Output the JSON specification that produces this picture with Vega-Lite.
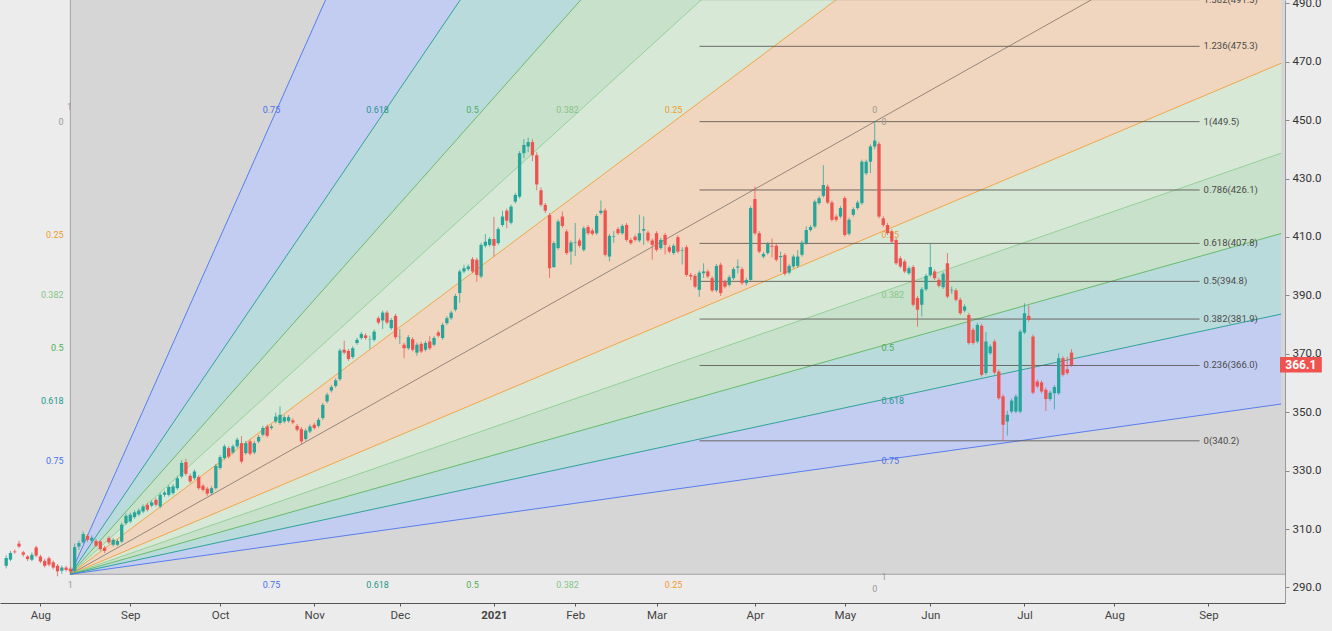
{
"$schema": "https://vega.github.io/schema/vega-lite/v6.json",
"width": 1285, "height": 603,
"autosize": {"type": "none"},
"padding": {"top": 0, "left": 0, "right": 47, "bottom": 28},
"background": "#ececec",
"view": {"stroke": null},
"config": {"font": "Roboto"},
"resolve": {"scale": {"color": "independent"}},
"datasets": {
"fanbox": [{"x1": 7, "x2": 300, "y1": 294.5, "y2": 520}],
"bands": [
{"b":"B1","x":7,"y":294.5,"y2":294.5},{"b":"B1","x":290,"y":1227.8,"y2":905.3},
{"b":"B2","x":7,"y":294.5,"y2":294.5},{"b":"B2","x":290,"y":905.3,"y2":761.1},
{"b":"B3","x":7,"y":294.5,"y2":294.5},{"b":"B3","x":290,"y":761.1,"y2":672.0},
{"b":"B4","x":7,"y":294.5,"y2":294.5},{"b":"B4","x":290,"y":672.0,"y2":605.6},
{"b":"B5","x":7,"y":294.5,"y2":294.5},{"b":"B5","x":290,"y":605.6,"y2":469.5},
{"b":"B6","x":7,"y":294.5,"y2":294.5},{"b":"B6","x":290,"y":469.5,"y2":438.7},
{"b":"B7","x":7,"y":294.5,"y2":294.5},{"b":"B7","x":290,"y":438.7,"y2":411.2},
{"b":"B8","x":7,"y":294.5,"y2":294.5},{"b":"B8","x":290,"y":411.2,"y2":383.6},
{"b":"B9","x":7,"y":294.5,"y2":294.5},{"b":"B9","x":290,"y":383.6,"y2":352.8}
],
"fanlines": [
{"l":"t75","x":7,"y":294.5},{"l":"t75","x":290,"y":1227.8},
{"l":"t618","x":7,"y":294.5},{"l":"t618","x":290,"y":905.3},
{"l":"t5","x":7,"y":294.5},{"l":"t5","x":290,"y":761.1},
{"l":"t382","x":7,"y":294.5},{"l":"t382","x":290,"y":672.0},
{"l":"t25","x":7,"y":294.5},{"l":"t25","x":290,"y":605.6},
{"l":"d0","x":7,"y":294.5},{"l":"d0","x":290,"y":527.8},
{"l":"s25","x":7,"y":294.5},{"l":"s25","x":290,"y":469.5},
{"l":"s382","x":7,"y":294.5},{"l":"s382","x":290,"y":438.7},
{"l":"s5","x":7,"y":294.5},{"l":"s5","x":290,"y":411.2},
{"l":"s618","x":7,"y":294.5},{"l":"s618","x":290,"y":383.6},
{"l":"s75","x":7,"y":294.5},{"l":"s75","x":290,"y":352.8}
],
"fanlabels": [
{"pos":"L","x":5.4,"y":449.5,"t":"0","lv":"0"},
{"pos":"L","x":5.4,"y":410.75,"t":"0.25","lv":"0.25"},
{"pos":"L","x":5.4,"y":390.29,"t":"0.382","lv":"0.382"},
{"pos":"L","x":5.4,"y":372,"t":"0.5","lv":"0.5"},
{"pos":"L","x":5.4,"y":353.71,"t":"0.618","lv":"0.618"},
{"pos":"L","x":5.4,"y":333.25,"t":"0.75","lv":"0.75"},
{"pos":"R","x":196.6,"y":449.5,"t":"0","lv":"0"},
{"pos":"R","x":196.6,"y":410.75,"t":"0.25","lv":"0.25"},
{"pos":"R","x":196.6,"y":390.29,"t":"0.382","lv":"0.382"},
{"pos":"R","x":196.6,"y":372,"t":"0.5","lv":"0.5"},
{"pos":"R","x":196.6,"y":353.71,"t":"0.618","lv":"0.618"},
{"pos":"R","x":196.6,"y":333.25,"t":"0.75","lv":"0.75"},
{"pos":"C","x":6.8,"y":454.6,"t":"1","lv":"1"},
{"pos":"C","x":54,"y":453.6,"t":"0.75","lv":"0.75"},
{"pos":"C","x":78.8,"y":453.6,"t":"0.618","lv":"0.618"},
{"pos":"C","x":101,"y":453.6,"t":"0.5","lv":"0.5"},
{"pos":"C","x":123.2,"y":453.6,"t":"0.382","lv":"0.382"},
{"pos":"C","x":148,"y":453.6,"t":"0.25","lv":"0.25"},
{"pos":"C","x":195,"y":453.6,"t":"0","lv":"0"},
{"pos":"C","x":7,"y":290.9,"t":"1","lv":"1"},
{"pos":"C","x":54,"y":290.9,"t":"0.75","lv":"0.75"},
{"pos":"C","x":78.8,"y":290.9,"t":"0.618","lv":"0.618"},
{"pos":"C","x":101,"y":290.9,"t":"0.5","lv":"0.5"},
{"pos":"C","x":123.2,"y":290.9,"t":"0.382","lv":"0.382"},
{"pos":"C","x":148,"y":290.9,"t":"0.25","lv":"0.25"},
{"pos":"C","x":195,"y":289.6,"t":"0","lv":"0"},
{"pos":"C","x":197.2,"y":293.6,"t":"1","lv":"1"}
],
"fib": [
{"p":491.3,"t":"1.382(491.3)"},
{"p":475.3,"t":"1.236(475.3)"},
{"p":449.5,"t":"1(449.5)"},
{"p":426.1,"t":"0.786(426.1)"},
{"p":407.8,"t":"0.618(407.8)"},
{"p":394.8,"t":"0.5(394.8)"},
{"p":381.9,"t":"0.382(381.9)"},
{"p":366.0,"t":"0.236(366.0)"},
{"p":340.2,"t":"0(340.2)"}
],
"tag": [{"p":366.1,"t":"366.1"}],
"candles": [
{"i":-8,"o":297.4,"h":301,"l":296.5,"c":300.1},
{"i":-7,"o":299.5,"h":302.5,"l":299,"c":301.8},
{"i":-6,"o":302.3,"h":303,"l":301.5,"c":302},
{"i":-5,"o":305,"h":306,"l":303.5,"c":304},
{"i":-4,"o":302,"h":302.5,"l":300.5,"c":301.2},
{"i":-3,"o":300.6,"h":301,"l":299,"c":299.7},
{"i":-2,"o":299.5,"h":302,"l":299,"c":301.2},
{"i":-1,"o":303.7,"h":304.3,"l":300.3,"c":300.9},
{"i":0,"o":300.6,"h":301.2,"l":298.3,"c":298.9},
{"i":1,"o":299.1,"h":299.8,"l":296.8,"c":297.4},
{"i":2,"o":300,"h":300.6,"l":297.2,"c":297.8},
{"i":3,"o":298.6,"h":299.2,"l":296.2,"c":296.8},
{"i":4,"o":297.4,"h":298,"l":293.8,"c":295.5},
{"i":5,"o":295.7,"h":297.5,"l":294.6,"c":296.8},
{"i":6,"o":296.8,"h":297.4,"l":295.4,"c":296},
{"i":7,"o":296.4,"h":297,"l":294.5,"c":295.5},
{"i":8,"o":295.7,"h":305,"l":295.2,"c":303.8},
{"i":9,"o":304,"h":306,"l":302.8,"c":305.2},
{"i":10,"o":305.4,"h":309.2,"l":305,"c":308.3},
{"i":11,"o":307.7,"h":308.3,"l":305.6,"c":306.3},
{"i":12,"o":306,"h":307.8,"l":305.3,"c":307},
{"i":13,"o":305.9,"h":306.6,"l":303.8,"c":304.3},
{"i":14,"o":305.7,"h":306.2,"l":302.5,"c":303.1},
{"i":15,"o":303.6,"h":304.2,"l":301.8,"c":302.5},
{"i":16,"o":306.9,"h":307.5,"l":304.8,"c":305.4},
{"i":17,"o":304.6,"h":306.9,"l":304,"c":306.3},
{"i":18,"o":304.6,"h":306.5,"l":304.1,"c":305.9},
{"i":19,"o":305.7,"h":312.2,"l":305.2,"c":311.5},
{"i":20,"o":312,"h":315.3,"l":311.4,"c":314.5},
{"i":21,"o":312.6,"h":315.6,"l":312,"c":314.9},
{"i":22,"o":314.1,"h":316.4,"l":313.5,"c":315.7},
{"i":23,"o":315,"h":317,"l":314.5,"c":316.3},
{"i":24,"o":316,"h":318.4,"l":315.4,"c":317.7},
{"i":25,"o":318.3,"h":319,"l":316,"c":316.6},
{"i":26,"o":318,"h":319.8,"l":317.4,"c":319.1},
{"i":27,"o":320,"h":320.7,"l":317.7,"c":318.3},
{"i":28,"o":317.7,"h":322.4,"l":317.1,"c":321.7},
{"i":29,"o":321.7,"h":323.2,"l":321,"c":322.5},
{"i":30,"o":321.7,"h":325.1,"l":321.1,"c":324.4},
{"i":31,"o":322.3,"h":325.4,"l":321.7,"c":324.6},
{"i":32,"o":324,"h":328.2,"l":323.4,"c":327.4},
{"i":33,"o":328,"h":333.5,"l":327.4,"c":332.6},
{"i":34,"o":332.9,"h":334,"l":328.2,"c":328.9},
{"i":35,"o":328.2,"h":329,"l":325.7,"c":326.3},
{"i":36,"o":327.4,"h":330.4,"l":326.8,"c":329.7},
{"i":37,"o":327.8,"h":328.5,"l":323.4,"c":324},
{"i":38,"o":324.8,"h":325.4,"l":322.8,"c":323.4},
{"i":39,"o":323.8,"h":324.4,"l":321.4,"c":322.1},
{"i":40,"o":322.3,"h":324.7,"l":321.6,"c":324},
{"i":41,"o":324,"h":332.3,"l":323.5,"c":331.6},
{"i":42,"o":330.9,"h":335.3,"l":330.3,"c":334.6},
{"i":43,"o":334.3,"h":339,"l":333.7,"c":338.3},
{"i":44,"o":337.7,"h":338.4,"l":334.2,"c":334.8},
{"i":45,"o":336.2,"h":339,"l":335.6,"c":338.3},
{"i":46,"o":338.3,"h":341.3,"l":337.7,"c":340.6},
{"i":47,"o":339.4,"h":341.8,"l":332.5,"c":333.1},
{"i":48,"o":336,"h":340.1,"l":335.4,"c":339.4},
{"i":49,"o":340,"h":340.7,"l":335.2,"c":335.8},
{"i":50,"o":336.2,"h":340.1,"l":335.6,"c":339.4},
{"i":51,"o":340,"h":342.2,"l":339.4,"c":341.5},
{"i":52,"o":342.3,"h":345.3,"l":341.7,"c":344.6},
{"i":53,"o":345.1,"h":345.8,"l":341.3,"c":341.9},
{"i":54,"o":344.6,"h":345.8,"l":344,"c":345.1},
{"i":55,"o":346.8,"h":349.8,"l":346.2,"c":348.5},
{"i":56,"o":346.3,"h":352,"l":345.7,"c":349.1},
{"i":57,"o":346.8,"h":349,"l":346.2,"c":348.3},
{"i":58,"o":347,"h":349,"l":346.4,"c":348.3},
{"i":59,"o":347.2,"h":347.9,"l":345.9,"c":346.5},
{"i":60,"o":345.3,"h":346,"l":343.4,"c":344},
{"i":61,"o":344.2,"h":344.9,"l":339,"c":340},
{"i":62,"o":340.8,"h":344.4,"l":340.2,"c":343.7},
{"i":63,"o":343.4,"h":345.8,"l":342.8,"c":345.1},
{"i":64,"o":345.7,"h":346.4,"l":344,"c":344.6},
{"i":65,"o":345.3,"h":348.1,"l":344.7,"c":347.4},
{"i":66,"o":348,"h":353.2,"l":347.4,"c":352.5},
{"i":67,"o":353.7,"h":356.7,"l":353.1,"c":356},
{"i":68,"o":357.4,"h":359.3,"l":356.8,"c":358.6},
{"i":69,"o":359,"h":361.6,"l":358.4,"c":360.9},
{"i":70,"o":361.3,"h":371.8,"l":360.7,"c":371.1},
{"i":71,"o":371.4,"h":374.5,"l":369.8,"c":370.4},
{"i":72,"o":371,"h":371.7,"l":367.6,"c":368.2},
{"i":73,"o":368.9,"h":372.6,"l":368.3,"c":371.9},
{"i":74,"o":373.7,"h":375.5,"l":373.1,"c":374.8},
{"i":75,"o":375.4,"h":377.5,"l":374.8,"c":376.8},
{"i":76,"o":376.3,"h":377,"l":374.8,"c":375.4},
{"i":77,"o":374.8,"h":376.2,"l":371.7,"c":374.9},
{"i":78,"o":374.8,"h":378.3,"l":374.2,"c":377.6},
{"i":79,"o":382.2,"h":382.9,"l":380.1,"c":380.7},
{"i":80,"o":381.4,"h":384.8,"l":378.5,"c":384.1},
{"i":81,"o":384.1,"h":384.8,"l":380.1,"c":380.7},
{"i":82,"o":378.8,"h":382.3,"l":378.2,"c":381.6},
{"i":83,"o":383,"h":383.7,"l":375,"c":375.7},
{"i":84,"o":375.7,"h":378.5,"l":373.3,"c":375.8},
{"i":85,"o":373.1,"h":373.8,"l":368.5,"c":371.9},
{"i":86,"o":371.9,"h":376.4,"l":371.3,"c":375.7},
{"i":87,"o":375,"h":375.7,"l":370.8,"c":371.4},
{"i":88,"o":370.4,"h":373.8,"l":369.3,"c":373.1},
{"i":89,"o":373.4,"h":374.1,"l":370.2,"c":370.8},
{"i":90,"o":371.4,"h":374.4,"l":370.8,"c":373.7},
{"i":91,"o":374.2,"h":376,"l":371.3,"c":371.9},
{"i":92,"o":373.1,"h":376.1,"l":372.5,"c":375.4},
{"i":93,"o":377.3,"h":378,"l":375.6,"c":376.2},
{"i":94,"o":375.4,"h":380.6,"l":374.8,"c":379.9},
{"i":95,"o":380.5,"h":382.9,"l":379.9,"c":382.2},
{"i":96,"o":382.2,"h":384.8,"l":381.6,"c":384.1},
{"i":97,"o":385.1,"h":390.5,"l":384.5,"c":389.8},
{"i":98,"o":390.8,"h":398.9,"l":387.5,"c":398.2},
{"i":99,"o":398.2,"h":400.5,"l":397.6,"c":399.3},
{"i":100,"o":399,"h":400.6,"l":398.4,"c":399.9},
{"i":101,"o":402.4,"h":403.1,"l":397.6,"c":398.2},
{"i":102,"o":402.2,"h":402.9,"l":394.7,"c":397},
{"i":103,"o":396.5,"h":408,"l":395.9,"c":407.3},
{"i":104,"o":407,"h":411,"l":406.4,"c":408.4},
{"i":105,"o":407.3,"h":410,"l":406.7,"c":409.3},
{"i":106,"o":409.3,"h":416.9,"l":403.3,"c":407},
{"i":107,"o":407.9,"h":413.4,"l":407.3,"c":412.7},
{"i":108,"o":414.1,"h":419,"l":413.5,"c":417},
{"i":109,"o":419,"h":419.7,"l":413,"c":415.6},
{"i":110,"o":414.9,"h":421.1,"l":414.3,"c":420.4},
{"i":111,"o":422.1,"h":425.1,"l":421.5,"c":424.4},
{"i":112,"o":423.8,"h":439.4,"l":423.2,"c":438.7},
{"i":113,"o":438.7,"h":443.5,"l":437,"c":441.5},
{"i":114,"o":441,"h":444,"l":439,"c":442.5},
{"i":115,"o":442.5,"h":443.5,"l":436,"c":438},
{"i":116,"o":438,"h":439,"l":426,"c":428},
{"i":117,"o":426,"h":427,"l":420.4,"c":421},
{"i":118,"o":421,"h":421.7,"l":418.2,"c":419},
{"i":119,"o":417.5,"h":418.2,"l":396,"c":399.3},
{"i":120,"o":399.7,"h":408.6,"l":399.4,"c":407.9},
{"i":121,"o":406.2,"h":416,"l":405.6,"c":415.3},
{"i":122,"o":417,"h":418.7,"l":413.2,"c":413.8},
{"i":123,"o":411.9,"h":412.6,"l":403.9,"c":404.5},
{"i":124,"o":405,"h":408.8,"l":400.5,"c":408.1},
{"i":125,"o":408,"h":414.8,"l":403.5,"c":408.2},
{"i":126,"o":408.8,"h":409.5,"l":406.4,"c":407},
{"i":127,"o":405.6,"h":413.7,"l":405,"c":413},
{"i":128,"o":413.4,"h":414.1,"l":410.7,"c":411.3},
{"i":129,"o":412.2,"h":412.9,"l":410.5,"c":411.1},
{"i":130,"o":411.3,"h":417.9,"l":410.7,"c":417.2},
{"i":131,"o":418.2,"h":422.5,"l":417.6,"c":419},
{"i":132,"o":419.1,"h":419.8,"l":403.3,"c":403.9},
{"i":133,"o":403.3,"h":411.1,"l":401.6,"c":410.4},
{"i":134,"o":410,"h":412,"l":408,"c":410.2},
{"i":135,"o":412.7,"h":413.4,"l":410.7,"c":411.3},
{"i":136,"o":411.3,"h":414.5,"l":410.7,"c":413.8},
{"i":137,"o":414.1,"h":414.8,"l":408.4,"c":409},
{"i":138,"o":409,"h":409.7,"l":407.3,"c":407.9},
{"i":139,"o":410.1,"h":410.8,"l":408.4,"c":409},
{"i":140,"o":408.8,"h":417.6,"l":408.2,"c":411.3},
{"i":141,"o":412.2,"h":417,"l":407.3,"c":412.7},
{"i":142,"o":411.5,"h":412.2,"l":408.2,"c":408.8},
{"i":143,"o":408.8,"h":409.5,"l":402.2,"c":407.3},
{"i":144,"o":411.3,"h":412,"l":405,"c":405.6},
{"i":145,"o":406.2,"h":409.7,"l":405.6,"c":409},
{"i":146,"o":410.7,"h":411.4,"l":404,"c":407.3},
{"i":147,"o":406.5,"h":407.2,"l":404.4,"c":405},
{"i":148,"o":404.5,"h":407.7,"l":403.9,"c":407},
{"i":149,"o":409.9,"h":410.6,"l":404.4,"c":405},
{"i":150,"o":405.3,"h":406.5,"l":400.6,"c":405.5},
{"i":151,"o":406.5,"h":407.2,"l":396.4,"c":397},
{"i":152,"o":397,"h":397.7,"l":395.2,"c":396.5},
{"i":153,"o":396.7,"h":397.4,"l":392.4,"c":393},
{"i":154,"o":391.9,"h":398.5,"l":389.5,"c":397.8},
{"i":155,"o":397.6,"h":401,"l":396,"c":398.2},
{"i":156,"o":398.2,"h":398.9,"l":395.9,"c":396.5},
{"i":157,"o":395.9,"h":396.6,"l":391.1,"c":391.7},
{"i":158,"o":391.7,"h":400.8,"l":391.1,"c":400.1},
{"i":159,"o":400.5,"h":401.2,"l":389.8,"c":390.8},
{"i":160,"o":394.7,"h":395.4,"l":392.4,"c":393},
{"i":161,"o":393.6,"h":396.9,"l":393,"c":396.2},
{"i":162,"o":395.9,"h":399.7,"l":395.3,"c":399},
{"i":163,"o":399.5,"h":402.3,"l":397.5,"c":399.9},
{"i":164,"o":399,"h":399.7,"l":393.6,"c":394.2},
{"i":165,"o":394.2,"h":396,"l":393.4,"c":395.3},
{"i":166,"o":395.3,"h":420.6,"l":394.7,"c":419.9},
{"i":167,"o":423,"h":427.3,"l":410.7,"c":411.3},
{"i":168,"o":411.3,"h":412,"l":404.4,"c":405},
{"i":169,"o":403.3,"h":404.9,"l":402.7,"c":404.2},
{"i":170,"o":404.5,"h":408.3,"l":403.9,"c":407.6},
{"i":171,"o":407,"h":409.5,"l":403,"c":406.7},
{"i":172,"o":407,"h":407.7,"l":401.6,"c":402.2},
{"i":173,"o":403.1,"h":405,"l":398,"c":403.5},
{"i":174,"o":403.8,"h":404.5,"l":396.8,"c":397.4},
{"i":175,"o":397.8,"h":400.8,"l":397.2,"c":400.1},
{"i":176,"o":399.9,"h":404,"l":399.3,"c":403.3},
{"i":177,"o":400.1,"h":405.5,"l":399.5,"c":403.3},
{"i":178,"o":403.9,"h":408.8,"l":403.3,"c":408.1},
{"i":179,"o":407.9,"h":413.6,"l":407.3,"c":412.4},
{"i":180,"o":412.4,"h":414.1,"l":411.8,"c":413.4},
{"i":181,"o":413.6,"h":422.8,"l":413,"c":422.1},
{"i":182,"o":421.6,"h":424,"l":421,"c":423.3},
{"i":183,"o":424.1,"h":434.6,"l":423.5,"c":427.8},
{"i":184,"o":427.3,"h":428,"l":421.2,"c":421.8},
{"i":185,"o":421.8,"h":422.5,"l":415.3,"c":415.9},
{"i":186,"o":417,"h":417.7,"l":415.3,"c":415.9},
{"i":187,"o":417,"h":420.6,"l":416.4,"c":419.9},
{"i":188,"o":423.3,"h":424,"l":410.1,"c":410.7},
{"i":189,"o":411.1,"h":416.6,"l":410.5,"c":415.9},
{"i":190,"o":417.6,"h":420.2,"l":417,"c":419.5},
{"i":191,"o":419.9,"h":422.5,"l":419.3,"c":421.8},
{"i":192,"o":421.6,"h":436.5,"l":421,"c":435.8},
{"i":193,"o":431.8,"h":436.5,"l":431.2,"c":435.8},
{"i":194,"o":435.8,"h":441.7,"l":431.9,"c":441},
{"i":195,"o":441,"h":449.5,"l":440,"c":443},
{"i":196,"o":441.9,"h":442.6,"l":416.4,"c":417},
{"i":197,"o":416.4,"h":417.1,"l":413.5,"c":414.1},
{"i":198,"o":414.1,"h":414.8,"l":410.7,"c":411.3},
{"i":199,"o":411.9,"h":412.6,"l":407.8,"c":408.4},
{"i":200,"o":409,"h":409.7,"l":400.4,"c":401},
{"i":201,"o":402.7,"h":403.4,"l":399.3,"c":399.9},
{"i":202,"o":401.6,"h":402.3,"l":397.6,"c":398.2},
{"i":203,"o":397.6,"h":400,"l":397,"c":399.3},
{"i":204,"o":399.7,"h":400.4,"l":386.2,"c":386.8},
{"i":205,"o":389.1,"h":389.8,"l":379.3,"c":385.1},
{"i":206,"o":386.8,"h":392.8,"l":382.8,"c":392.1},
{"i":207,"o":392.1,"h":397.4,"l":391.5,"c":396.7},
{"i":208,"o":397,"h":407.9,"l":396.4,"c":399.7},
{"i":209,"o":398.2,"h":398.9,"l":395.3,"c":395.9},
{"i":210,"o":395.3,"h":396,"l":392.7,"c":393.3},
{"i":211,"o":392.8,"h":398.1,"l":392.2,"c":397.4},
{"i":212,"o":401,"h":404.5,"l":389,"c":389.6},
{"i":213,"o":391.7,"h":393,"l":390.5,"c":391.9},
{"i":214,"o":391.7,"h":392.4,"l":387.9,"c":388.5},
{"i":215,"o":388.5,"h":389.2,"l":383.3,"c":383.9},
{"i":216,"o":384.8,"h":386.9,"l":384.2,"c":386.2},
{"i":217,"o":383.3,"h":384,"l":373.1,"c":373.7},
{"i":218,"o":378.2,"h":378.9,"l":373.1,"c":373.7},
{"i":219,"o":374.2,"h":380.6,"l":373.6,"c":379.9},
{"i":220,"o":379.6,"h":380.3,"l":362.2,"c":362.8},
{"i":221,"o":363.4,"h":377.5,"l":362.8,"c":374.2},
{"i":222,"o":370.2,"h":373.2,"l":369.6,"c":372.5},
{"i":223,"o":374.2,"h":374.9,"l":363,"c":363.6},
{"i":224,"o":363.9,"h":364.6,"l":354.2,"c":354.8},
{"i":225,"o":355.4,"h":356.1,"l":340.2,"c":345.7},
{"i":226,"o":346.8,"h":350.5,"l":342,"c":349.1},
{"i":227,"o":350.2,"h":354.7,"l":349.6,"c":354},
{"i":228,"o":350.2,"h":356.1,"l":349.6,"c":355.4},
{"i":229,"o":350.2,"h":378.3,"l":349.6,"c":377.6},
{"i":230,"o":377.3,"h":387.3,"l":376.7,"c":383.9},
{"i":231,"o":383,"h":386.5,"l":381,"c":381.6},
{"i":232,"o":375.9,"h":376.6,"l":356.1,"c":356.7},
{"i":233,"o":360.5,"h":361.2,"l":358.2,"c":358.8},
{"i":234,"o":360.2,"h":360.9,"l":356.5,"c":357.1},
{"i":235,"o":357.7,"h":358.4,"l":350.4,"c":354.5},
{"i":236,"o":354.5,"h":357.4,"l":353.9,"c":356.7},
{"i":237,"o":356.5,"h":359.3,"l":351,"c":358.6},
{"i":238,"o":356.5,"h":370.2,"l":355.9,"c":368.5},
{"i":239,"o":368.5,"h":369.2,"l":362.2,"c":362.8},
{"i":240,"o":364.7,"h":369,"l":362.8,"c":363.4},
{"i":241,"o":370.4,"h":371.6,"l":365.5,"c":366.1}
]
},
"layer": [
{
"data": {"name": "fanbox"},
"mark": {"type": "rect", "clip": true, "fill": "#d6d6d6", "stroke": "#a3a3a3", "strokeWidth": 1},
"encoding": {
"x": {"field": "x1", "type": "quantitative", "scale": {"domain": [-8.28, 289.73], "nice": false, "zero": false},
"axis": {"orient": "bottom", "title": null, "grid": false, "values": [0,21,42,64,84,106,125,144,167,188,208,230,251,273], "labelExpr": "['Aug','Sep','Oct','Nov','Dec','2021','Feb','Mar','Apr','May','Jun','Jul','Aug','Sep'][indexof([0,21,42,64,84,106,125,144,167,188,208,230,251,273], datum.value)]", "labelFontWeight": {"condition": {"test": "datum.value == 106", "value": "bold"}, "value": "normal"}, "labelFont": "Roboto", "labelFontSize": 11.5, "labelColor": "#444444", "labelPadding": 3, "tickSize": 3, "tickColor": "#555555", "domainColor": "#555555", "labelFlush": false, "labelOverlap": false}},
"x2": {"field": "x2"},
"y": {"field": "y1", "type": "quantitative", "scale": {"domain": [284.66, 491.16], "nice": false, "zero": false},
"axis": {"orient": "right", "title": null, "grid": false, "values": [290,310,330,350,370,390,410,430,450,470,490], "format": ".1f", "labelFont": "Roboto", "labelFontSize": 11.5, "labelColor": "#333333", "labelPadding": 3, "tickSize": 4, "tickColor": "#888888", "domainColor": "#999999", "labelOverlap": false, "labelFlush": false}},
"y2": {"field": "y2"}
}
},
{
"data": {"name": "bands"},
"mark": {"type": "area", "clip": true, "opacity": 1},
"encoding": {
"x": {"field": "x", "type": "quantitative", "scale": {"domain": [-8.28, 289.73], "nice": false, "zero": false},
"axis": {"orient": "bottom", "title": null, "grid": false, "values": [0,21,42,64,84,106,125,144,167,188,208,230,251,273], "labelExpr": "['Aug','Sep','Oct','Nov','Dec','2021','Feb','Mar','Apr','May','Jun','Jul','Aug','Sep'][indexof([0,21,42,64,84,106,125,144,167,188,208,230,251,273], datum.value)]", "labelFontWeight": {"condition": {"test": "datum.value == 106", "value": "bold"}, "value": "normal"}, "labelFont": "Roboto", "labelFontSize": 11.5, "labelColor": "#444444", "labelPadding": 3, "tickSize": 3, "tickColor": "#555555", "domainColor": "#555555", "labelFlush": false, "labelOverlap": false}},
"y": {"field": "y", "type": "quantitative", "stack": null, "scale": {"domain": [284.66, 491.16], "nice": false, "zero": false},
"axis": {"orient": "right", "title": null, "grid": false, "values": [290,310,330,350,370,390,410,430,450,470,490], "format": ".1f", "labelFont": "Roboto", "labelFontSize": 11.5, "labelColor": "#333333", "labelPadding": 3, "tickSize": 4, "tickColor": "#888888", "domainColor": "#999999", "labelOverlap": false, "labelFlush": false}},
"y2": {"field": "y2"},
"color": {"field": "b", "type": "nominal", "legend": null,
"scale": {"domain": ["B1","B2","B3","B4","B5","B6","B7","B8","B9"],
"range": ["#c3cdf2","#badbdc","#c8e1ca","#d7e8d6","#f0d6be","#d7e8d6","#c8e1ca","#badbdc","#c3cdf2"]}}
}
},
{
"data": {"name": "fanlines"},
"mark": {"type": "line", "clip": true, "strokeWidth": 1, "opacity": 0.9},
"encoding": {
"x": {"field": "x", "type": "quantitative", "scale": {"domain": [-8.28, 289.73], "nice": false, "zero": false},
"axis": {"orient": "bottom", "title": null, "grid": false, "values": [0,21,42,64,84,106,125,144,167,188,208,230,251,273], "labelExpr": "['Aug','Sep','Oct','Nov','Dec','2021','Feb','Mar','Apr','May','Jun','Jul','Aug','Sep'][indexof([0,21,42,64,84,106,125,144,167,188,208,230,251,273], datum.value)]", "labelFontWeight": {"condition": {"test": "datum.value == 106", "value": "bold"}, "value": "normal"}, "labelFont": "Roboto", "labelFontSize": 11.5, "labelColor": "#444444", "labelPadding": 3, "tickSize": 3, "tickColor": "#555555", "domainColor": "#555555", "labelFlush": false, "labelOverlap": false}},
"y": {"field": "y", "type": "quantitative", "scale": {"domain": [284.66, 491.16], "nice": false, "zero": false},
"axis": {"orient": "right", "title": null, "grid": false, "values": [290,310,330,350,370,390,410,430,450,470,490], "format": ".1f", "labelFont": "Roboto", "labelFontSize": 11.5, "labelColor": "#333333", "labelPadding": 3, "tickSize": 4, "tickColor": "#888888", "domainColor": "#999999", "labelOverlap": false, "labelFlush": false}},
"color": {"field": "l", "type": "nominal", "legend": null,
"scale": {"domain": ["t75","t618","t5","t382","t25","d0","s25","s382","s5","s618","s75"],
"range": ["#4d74ec","#1f9d8e","#5cb860","#8fcf92","#f5a03a","#8c7d75","#f5a03a","#8fcf92","#5cb860","#1f9d8e","#4d74ec"]}}
}
},
{
"data": {"name": "fib"},
"mark": {"type": "rule", "clip": true, "color": "#5a5652", "strokeWidth": 1, "opacity": 0.85},
"encoding": {
"x": {"datum": 154.06, "type": "quantitative", "scale": {"domain": [-8.28, 289.73], "nice": false, "zero": false},
"axis": {"orient": "bottom", "title": null, "grid": false, "values": [0,21,42,64,84,106,125,144,167,188,208,230,251,273], "labelExpr": "['Aug','Sep','Oct','Nov','Dec','2021','Feb','Mar','Apr','May','Jun','Jul','Aug','Sep'][indexof([0,21,42,64,84,106,125,144,167,188,208,230,251,273], datum.value)]", "labelFontWeight": {"condition": {"test": "datum.value == 106", "value": "bold"}, "value": "normal"}, "labelFont": "Roboto", "labelFontSize": 11.5, "labelColor": "#444444", "labelPadding": 3, "tickSize": 3, "tickColor": "#555555", "domainColor": "#555555", "labelFlush": false, "labelOverlap": false}},
"x2": {"datum": 270.94},
"y": {"field": "p", "type": "quantitative", "scale": {"domain": [284.66, 491.16], "nice": false, "zero": false},
"axis": {"orient": "right", "title": null, "grid": false, "values": [290,310,330,350,370,390,410,430,450,470,490], "format": ".1f", "labelFont": "Roboto", "labelFontSize": 11.5, "labelColor": "#333333", "labelPadding": 3, "tickSize": 4, "tickColor": "#888888", "domainColor": "#999999", "labelOverlap": false, "labelFlush": false}}
}
},
{
"data": {"name": "fib"},
"mark": {"type": "text", "align": "left", "baseline": "middle", "dx": 4, "font": "Roboto", "fontSize": 9.5, "color": "#4a4a4a"},
"encoding": {
"x": {"datum": 270.94, "type": "quantitative", "scale": {"domain": [-8.28, 289.73], "nice": false, "zero": false},
"axis": {"orient": "bottom", "title": null, "grid": false, "values": [0,21,42,64,84,106,125,144,167,188,208,230,251,273], "labelExpr": "['Aug','Sep','Oct','Nov','Dec','2021','Feb','Mar','Apr','May','Jun','Jul','Aug','Sep'][indexof([0,21,42,64,84,106,125,144,167,188,208,230,251,273], datum.value)]", "labelFontWeight": {"condition": {"test": "datum.value == 106", "value": "bold"}, "value": "normal"}, "labelFont": "Roboto", "labelFontSize": 11.5, "labelColor": "#444444", "labelPadding": 3, "tickSize": 3, "tickColor": "#555555", "domainColor": "#555555", "labelFlush": false, "labelOverlap": false}},
"y": {"field": "p", "type": "quantitative", "scale": {"domain": [284.66, 491.16], "nice": false, "zero": false},
"axis": {"orient": "right", "title": null, "grid": false, "values": [290,310,330,350,370,390,410,430,450,470,490], "format": ".1f", "labelFont": "Roboto", "labelFontSize": 11.5, "labelColor": "#333333", "labelPadding": 3, "tickSize": 4, "tickColor": "#888888", "domainColor": "#999999", "labelOverlap": false, "labelFlush": false}},
"text": {"field": "t"}
}
},
{
"data": {"name": "fanlabels"},
"transform": [{"filter": "datum.pos == 'L'"}],
"mark": {"type": "text", "align": "right", "baseline": "middle", "font": "Roboto", "fontSize": 9},
"encoding": {
"x": {"field": "x", "type": "quantitative", "scale": {"domain": [-8.28, 289.73], "nice": false, "zero": false},
"axis": {"orient": "bottom", "title": null, "grid": false, "values": [0,21,42,64,84,106,125,144,167,188,208,230,251,273], "labelExpr": "['Aug','Sep','Oct','Nov','Dec','2021','Feb','Mar','Apr','May','Jun','Jul','Aug','Sep'][indexof([0,21,42,64,84,106,125,144,167,188,208,230,251,273], datum.value)]", "labelFontWeight": {"condition": {"test": "datum.value == 106", "value": "bold"}, "value": "normal"}, "labelFont": "Roboto", "labelFontSize": 11.5, "labelColor": "#444444", "labelPadding": 3, "tickSize": 3, "tickColor": "#555555", "domainColor": "#555555", "labelFlush": false, "labelOverlap": false}},
"y": {"field": "y", "type": "quantitative", "scale": {"domain": [284.66, 491.16], "nice": false, "zero": false},
"axis": {"orient": "right", "title": null, "grid": false, "values": [290,310,330,350,370,390,410,430,450,470,490], "format": ".1f", "labelFont": "Roboto", "labelFontSize": 11.5, "labelColor": "#333333", "labelPadding": 3, "tickSize": 4, "tickColor": "#888888", "domainColor": "#999999", "labelOverlap": false, "labelFlush": false}},
"text": {"field": "t"},
"color": {"field": "lv", "type": "nominal", "legend": null,
"scale": {"domain": ["0","0.25","0.382","0.5","0.618","0.75","1"], "range": ["#999999","#f29b30","#86c689","#4fae55","#1f978a","#4a6ff0","#999999"]}}
}
},
{
"data": {"name": "fanlabels"},
"transform": [{"filter": "datum.pos == 'R'"}],
"mark": {"type": "text", "align": "left", "baseline": "middle", "font": "Roboto", "fontSize": 9},
"encoding": {
"x": {"field": "x", "type": "quantitative", "scale": {"domain": [-8.28, 289.73], "nice": false, "zero": false},
"axis": {"orient": "bottom", "title": null, "grid": false, "values": [0,21,42,64,84,106,125,144,167,188,208,230,251,273], "labelExpr": "['Aug','Sep','Oct','Nov','Dec','2021','Feb','Mar','Apr','May','Jun','Jul','Aug','Sep'][indexof([0,21,42,64,84,106,125,144,167,188,208,230,251,273], datum.value)]", "labelFontWeight": {"condition": {"test": "datum.value == 106", "value": "bold"}, "value": "normal"}, "labelFont": "Roboto", "labelFontSize": 11.5, "labelColor": "#444444", "labelPadding": 3, "tickSize": 3, "tickColor": "#555555", "domainColor": "#555555", "labelFlush": false, "labelOverlap": false}},
"y": {"field": "y", "type": "quantitative", "scale": {"domain": [284.66, 491.16], "nice": false, "zero": false},
"axis": {"orient": "right", "title": null, "grid": false, "values": [290,310,330,350,370,390,410,430,450,470,490], "format": ".1f", "labelFont": "Roboto", "labelFontSize": 11.5, "labelColor": "#333333", "labelPadding": 3, "tickSize": 4, "tickColor": "#888888", "domainColor": "#999999", "labelOverlap": false, "labelFlush": false}},
"text": {"field": "t"},
"color": {"field": "lv", "type": "nominal", "legend": null,
"scale": {"domain": ["0","0.25","0.382","0.5","0.618","0.75","1"], "range": ["#999999","#f29b30","#86c689","#4fae55","#1f978a","#4a6ff0","#999999"]}}
}
},
{
"data": {"name": "fanlabels"},
"transform": [{"filter": "datum.pos == 'C'"}],
"mark": {"type": "text", "align": "center", "baseline": "middle", "font": "Roboto", "fontSize": 9},
"encoding": {
"x": {"field": "x", "type": "quantitative", "scale": {"domain": [-8.28, 289.73], "nice": false, "zero": false},
"axis": {"orient": "bottom", "title": null, "grid": false, "values": [0,21,42,64,84,106,125,144,167,188,208,230,251,273], "labelExpr": "['Aug','Sep','Oct','Nov','Dec','2021','Feb','Mar','Apr','May','Jun','Jul','Aug','Sep'][indexof([0,21,42,64,84,106,125,144,167,188,208,230,251,273], datum.value)]", "labelFontWeight": {"condition": {"test": "datum.value == 106", "value": "bold"}, "value": "normal"}, "labelFont": "Roboto", "labelFontSize": 11.5, "labelColor": "#444444", "labelPadding": 3, "tickSize": 3, "tickColor": "#555555", "domainColor": "#555555", "labelFlush": false, "labelOverlap": false}},
"y": {"field": "y", "type": "quantitative", "scale": {"domain": [284.66, 491.16], "nice": false, "zero": false},
"axis": {"orient": "right", "title": null, "grid": false, "values": [290,310,330,350,370,390,410,430,450,470,490], "format": ".1f", "labelFont": "Roboto", "labelFontSize": 11.5, "labelColor": "#333333", "labelPadding": 3, "tickSize": 4, "tickColor": "#888888", "domainColor": "#999999", "labelOverlap": false, "labelFlush": false}},
"text": {"field": "t"},
"color": {"field": "lv", "type": "nominal", "legend": null,
"scale": {"domain": ["0","0.25","0.382","0.5","0.618","0.75","1"], "range": ["#999999","#f29b30","#86c689","#4fae55","#1f978a","#4a6ff0","#999999"]}}
}
},
{
"data": {"name": "candles"},
"mark": {"type": "rule", "strokeWidth": 1, "opacity": 0.75},
"encoding": {
"x": {"field": "i", "type": "quantitative", "scale": {"domain": [-8.28, 289.73], "nice": false, "zero": false},
"axis": {"orient": "bottom", "title": null, "grid": false, "values": [0,21,42,64,84,106,125,144,167,188,208,230,251,273], "labelExpr": "['Aug','Sep','Oct','Nov','Dec','2021','Feb','Mar','Apr','May','Jun','Jul','Aug','Sep'][indexof([0,21,42,64,84,106,125,144,167,188,208,230,251,273], datum.value)]", "labelFontWeight": {"condition": {"test": "datum.value == 106", "value": "bold"}, "value": "normal"}, "labelFont": "Roboto", "labelFontSize": 11.5, "labelColor": "#444444", "labelPadding": 3, "tickSize": 3, "tickColor": "#555555", "domainColor": "#555555", "labelFlush": false, "labelOverlap": false}},
"y": {"field": "l", "type": "quantitative", "scale": {"domain": [284.66, 491.16], "nice": false, "zero": false},
"axis": {"orient": "right", "title": null, "grid": false, "values": [290,310,330,350,370,390,410,430,450,470,490], "format": ".1f", "labelFont": "Roboto", "labelFontSize": 11.5, "labelColor": "#333333", "labelPadding": 3, "tickSize": 4, "tickColor": "#888888", "domainColor": "#999999", "labelOverlap": false, "labelFlush": false}},
"y2": {"field": "h"},
"color": {"condition": {"test": "datum.c >= datum.o", "value": "#26a69a"}, "value": "#ef5350"}
}
},
{
"data": {"name": "candles"},
"mark": {"type": "bar", "size": 3.3},
"encoding": {
"x": {"field": "i", "type": "quantitative", "scale": {"domain": [-8.28, 289.73], "nice": false, "zero": false},
"axis": {"orient": "bottom", "title": null, "grid": false, "values": [0,21,42,64,84,106,125,144,167,188,208,230,251,273], "labelExpr": "['Aug','Sep','Oct','Nov','Dec','2021','Feb','Mar','Apr','May','Jun','Jul','Aug','Sep'][indexof([0,21,42,64,84,106,125,144,167,188,208,230,251,273], datum.value)]", "labelFontWeight": {"condition": {"test": "datum.value == 106", "value": "bold"}, "value": "normal"}, "labelFont": "Roboto", "labelFontSize": 11.5, "labelColor": "#444444", "labelPadding": 3, "tickSize": 3, "tickColor": "#555555", "domainColor": "#555555", "labelFlush": false, "labelOverlap": false}},
"y": {"field": "o", "type": "quantitative", "scale": {"domain": [284.66, 491.16], "nice": false, "zero": false},
"axis": {"orient": "right", "title": null, "grid": false, "values": [290,310,330,350,370,390,410,430,450,470,490], "format": ".1f", "labelFont": "Roboto", "labelFontSize": 11.5, "labelColor": "#333333", "labelPadding": 3, "tickSize": 4, "tickColor": "#888888", "domainColor": "#999999", "labelOverlap": false, "labelFlush": false}},
"y2": {"field": "c"},
"color": {"condition": {"test": "datum.c >= datum.o", "value": "#26a69a"}, "value": "#ef5350"}
}
},
{
"data": {"name": "tag"},
"mark": {"type": "rect", "color": "#ef5350", "clip": false},
"encoding": {
"x": {"datum": 289.73, "type": "quantitative", "scale": {"domain": [-8.28, 289.73], "nice": false, "zero": false},
"axis": {"orient": "bottom", "title": null, "grid": false, "values": [0,21,42,64,84,106,125,144,167,188,208,230,251,273], "labelExpr": "['Aug','Sep','Oct','Nov','Dec','2021','Feb','Mar','Apr','May','Jun','Jul','Aug','Sep'][indexof([0,21,42,64,84,106,125,144,167,188,208,230,251,273], datum.value)]", "labelFontWeight": {"condition": {"test": "datum.value == 106", "value": "bold"}, "value": "normal"}, "labelFont": "Roboto", "labelFontSize": 11.5, "labelColor": "#444444", "labelPadding": 3, "tickSize": 3, "tickColor": "#555555", "domainColor": "#555555", "labelFlush": false, "labelOverlap": false}},
"x2": {"datum": 299.5},
"y": {"datum": 363.6, "type": "quantitative", "scale": {"domain": [284.66, 491.16], "nice": false, "zero": false},
"axis": {"orient": "right", "title": null, "grid": false, "values": [290,310,330,350,370,390,410,430,450,470,490], "format": ".1f", "labelFont": "Roboto", "labelFontSize": 11.5, "labelColor": "#333333", "labelPadding": 3, "tickSize": 4, "tickColor": "#888888", "domainColor": "#999999", "labelOverlap": false, "labelFlush": false}},
"y2": {"datum": 368.9}
}
},
{
"data": {"name": "tag"},
"mark": {"type": "text", "align": "center", "baseline": "middle", "font": "Roboto", "fontSize": 12, "fontWeight": "bold", "color": "#ffffff"},
"encoding": {
"x": {"datum": 294.6, "type": "quantitative", "scale": {"domain": [-8.28, 289.73], "nice": false, "zero": false},
"axis": {"orient": "bottom", "title": null, "grid": false, "values": [0,21,42,64,84,106,125,144,167,188,208,230,251,273], "labelExpr": "['Aug','Sep','Oct','Nov','Dec','2021','Feb','Mar','Apr','May','Jun','Jul','Aug','Sep'][indexof([0,21,42,64,84,106,125,144,167,188,208,230,251,273], datum.value)]", "labelFontWeight": {"condition": {"test": "datum.value == 106", "value": "bold"}, "value": "normal"}, "labelFont": "Roboto", "labelFontSize": 11.5, "labelColor": "#444444", "labelPadding": 3, "tickSize": 3, "tickColor": "#555555", "domainColor": "#555555", "labelFlush": false, "labelOverlap": false}},
"y": {"field": "p", "type": "quantitative", "scale": {"domain": [284.66, 491.16], "nice": false, "zero": false},
"axis": {"orient": "right", "title": null, "grid": false, "values": [290,310,330,350,370,390,410,430,450,470,490], "format": ".1f", "labelFont": "Roboto", "labelFontSize": 11.5, "labelColor": "#333333", "labelPadding": 3, "tickSize": 4, "tickColor": "#888888", "domainColor": "#999999", "labelOverlap": false, "labelFlush": false}},
"text": {"field": "t"}
}
}
]
}
